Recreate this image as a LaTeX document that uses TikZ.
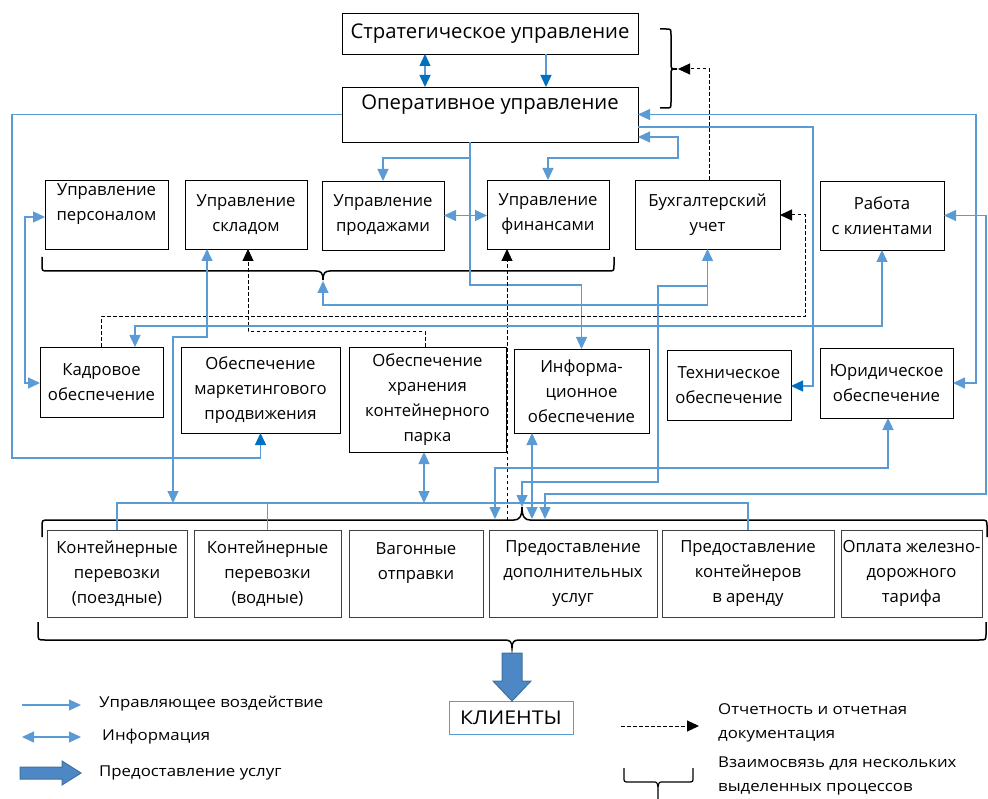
\documentclass[tikz,border=0pt]{standalone}
\usepackage{fontspec}
\setmainfont{Open Sans}
\newfontfamily\legf[FakeStretch=1.12]{Open Sans}
\usetikzlibrary{arrows.meta,calc}
\definecolor{lb}{HTML}{5B9BD5}
\definecolor{db}{HTML}{0070C0}
\definecolor{af}{HTML}{4E87C6}
\definecolor{ad}{HTML}{41719C}
\tikzset{
  box/.style={draw=black, line width=0.9pt, inner sep=0pt, outer sep=0pt, align=center, font=\fontsize{16.7}{25}\selectfont},
  topbox/.style={box, font=\fontsize{20.3}{25}\selectfont},
  svc/.style={box, draw=black!75},
  bl/.style={draw=lb, line width=1.3pt},
  lto/.style={-{Triangle[length=12pt,width=11pt]}},
  lboth/.style={{Triangle[length=12pt,width=11pt]}-{Triangle[length=12pt,width=11pt]}},
  dto/.style={-{Triangle[length=12pt,width=11pt,color=db,fill=db]}},
  dboth/.style={{Triangle[length=12pt,width=11pt,color=db,fill=db]}-{Triangle[length=12pt,width=11pt,color=db,fill=db]}},
  dsh/.style={draw=black, line width=1pt, dash pattern=on 3.5pt off 2.5pt, -{Triangle[length=12pt,width=11pt]}},
  brc/.style={draw=black, line width=1.5pt},
  legtext/.style={anchor=west, inner sep=0pt, align=left, font=\legf\fontsize{15}{24}\selectfont},
}
\begin{document}
\begin{tikzpicture}[x=1pt,y=-1pt]
\useasboundingbox (0,0) rectangle (988,799);

% top
\node[topbox,minimum width=296pt,minimum height=41pt] (strat) at (490,33.5) {Стратегическое управление};
\node[topbox,minimum width=296pt,minimum height=55pt] (oper) at (490,114.5) {Оперативное управление\\\mbox{}};

% row 1
\node[box,minimum width=123pt,minimum height=69pt] (upers) at (106.5,214.5) {Управление\\персоналом\\\mbox{}};
\node[box,minimum width=122pt,minimum height=69pt] (usklad) at (246,214.5) {Управление\\складом};
\node[box,minimum width=122pt,minimum height=69pt] (uprod) at (383,215.5) {Управление\\продажами};
\node[box,minimum width=122pt,minimum height=69pt] (ufin) at (548,214.5) {Управление\\финансами};
\node[box,minimum width=145pt,minimum height=69pt] (buh) at (707.5,214.5) {Бухгалтерский\\учет};
\node[box,minimum width=124pt,minimum height=69pt] (rabota) at (882,215.5) {Работа\\с клиентами};

% row 2
\node[box,minimum width=123pt,minimum height=70pt] (kadr) at (101.5,382) {Кадровое\\обеспечение};
\node[box,minimum width=159pt,minimum height=86pt] (market) at (260.5,390) {Обеспечение\\маркетингового\\продвижения};
\node[box,minimum width=157pt,minimum height=105pt] (hran) at (427.5,399.5) {Обеспечение\\хранения\\контейнерного\\парка};
\node[box,minimum width=135pt,minimum height=84pt] (inform) at (581.5,391) {Информа-\\ционное\\обеспечение};
\node[box,minimum width=124pt,minimum height=70pt] (tehn) at (729,385) {Техническое\\обеспечение};
\node[box,minimum width=133pt,minimum height=70pt] (jur) at (886.5,383) {Юридическое\\обеспечение};

% row 3
\node[svc,minimum width=140pt,minimum height=87pt] (kp) at (117,573.5) {Контейнерные\\перевозки\\(поездные)};
\node[svc,minimum width=147pt,minimum height=87pt] (kv) at (267.5,573.5) {Контейнерные\\перевозки\\(водные)};
\node[svc,minimum width=134pt,minimum height=87pt] (vag) at (416,573.5) {Вагонные\\отправки\\\mbox{}};
\node[svc,minimum width=168pt,minimum height=87pt] (dop) at (573,573.5) {Предоставление\\дополнительных\\услуг};
\node[svc,minimum width=172pt,minimum height=87pt] (arenda) at (748,573.5) {Предоставление\\контейнеров\\в аренду};
\node[svc,minimum width=141pt,minimum height=87pt] (tarif) at (911.5,573.5) {Оплата железно-\\дорожного\\тарифа};

% clients
\node[draw=lb, line width=0.9pt, inner sep=0pt, minimum width=124pt, minimum height=33pt, font=\legf\fontsize{19}{24}\selectfont] (clients) at (511,718) {КЛИЕНТЫ};

% braces
\draw[brc] (660,29) -- (666,29) .. controls (671,29) .. (671,35) -- (671,63) .. controls (671,69) .. (677,69)
  .. controls (671,69) .. (671,75) -- (671,102) .. controls (671,108) .. (666,108) -- (660,108);
\coordinate (b0tip) at (678,69);
\draw[brc] (42,257) -- (42,265) .. controls (42,271) .. (48,271) -- (316,271) .. controls (321,271) and (323,273) .. (323,280)
  .. controls (323,273) and (325,271) .. (330,271) -- (608,271) .. controls (614,271) .. (614,265) -- (614,257);
\coordinate (b1tip) at (323,281);
\draw[brc] (42,537) -- (42,527) .. controls (42,520) .. (49,520) -- (514,520) .. controls (519,520) and (522,517) .. (522,507)
  .. controls (522,517) and (525,520) .. (530,520) -- (980,520) .. controls (987,520) .. (987,527) -- (987,537);
\coordinate (b3tip) at (522,507);
\draw[brc] (38,622) -- (38,633) .. controls (38,640) .. (45,640) -- (505,640) .. controls (510,640) and (512,642) .. (512,648)
  .. controls (512,642) and (514,640) .. (519,640) -- (979,640) .. controls (986,640) .. (986,633) -- (986,622);

% connectors
\draw[bl,dboth] (425,0 |- strat.south) -- (425,0 |- oper.north);
\draw[bl,dto] (546,0 |- strat.south) -- (546,0 |- oper.north);
\draw[dsh] (709,0 |- buh.north) -- (709,69) -- (b0tip);
\draw[bl,dto] (oper.west) -- (12,114.5) -- (12,458) -- (market.south |- 0,458) -- (market.south);
\draw[bl,lto] (470,0 |- oper.south) -- (470,285) -- (inform.north |- 0,285) -- (inform.north);
\draw[bl,lto] (470,158) -- (uprod.north |- 0,158) -- (uprod.north);
\draw[bl,lboth] (ufin.north) -- (ufin.north |- 0,158) -- (678,158) -- (678,137) -- (oper.east |- 0,137);
\draw[bl,lboth] (oper.east) -- (976,114.5) -- (976,0 |- jur.east) -- (jur.east);
\draw[bl,lboth] (rabota.east) -- (986,0 |- rabota.east) -- (986,494) -- (545,494) -- (545,519);
\draw[bl,dto] (oper.east |- 0,127) -- (813,127) -- (813,386) -- (tehn.east |- 0,386);
\draw[bl,lboth] (uprod.east) -- (uprod.east -| ufin.west);
\draw[bl,lboth] (b1tip) -- (323,305) -- (buh.south |- 0,305) -- (buh.south);
\draw[dsh] (101,0 |- kadr.north) -- (101,317) -- (805,317) -- (805,215) -- (buh.east |- 0,215);
\draw[dsh] (425,0 |- hran.north) -- (425,332) -- (248,332) -- (248,0 |- usklad.south);
\draw[dsh] (507,520) -- (507,0 |- ufin.south);
\draw[bl,lboth] (135,0 |- kadr.north) -- (135,326) -- (rabota.south |- 0,326) -- (rabota.south);
\draw[bl,lboth] (207,0 |- usklad.south) -- (207,337) -- (173,337) -- (173,503);
\draw[bl] (kp.north) -- (kp.north |- 0,503) -- (arenda.north |- 0,503) -- (arenda.north);
\draw[bl] (kv.north) -- (kv.north |- 0,503);
\draw[bl,lboth] (424,0 |- hran.south) -- (424,503);
\draw[bl,lboth] (532,0 |- inform.south) -- (532,519);
\draw[bl,lboth] (888,0 |- jur.south) -- (888,468) -- (495,468) -- (495,519);
\draw[bl,lto] (buh.south |- 0,286) -- (658,286) -- (658,482) -- (522,482) -- (b3tip);
\draw[bl,lboth] (upers.west |- 0,217) -- (25,217) -- (25,383) -- (kadr.west |- 0,383);

% big arrow to clients
\draw[fill=af, draw=ad, line width=1pt] (502,653) -- (522,653) -- (522,681) -- (531,681) -- (512,0 |- clients.north) -- (493,681) -- (502,681) -- cycle;

% legend
\coordinate (l1a) at (22,705); \coordinate (l1b) at (81,705);
\draw[bl,lto] (l1a) -- (l1b);
\node[legtext] (t1) at (99,704) {Управляющее воздействие};
\coordinate (l2a) at (22,737); \coordinate (l2b) at (81,737);
\draw[bl,lboth] (l2a) -- (l2b);
\node[legtext] (t2) at (102,737) {Информация};
\draw[fill=af, draw=ad, line width=1pt] (20,767) -- (62,767) -- (62,761) -- (81,773) -- (62,785) -- (62,779) -- (20,779) -- cycle;
\node[legtext] (t3) at (99,773) {Предоставление услуг};
\coordinate (l4a) at (621,726); \coordinate (l4b) at (699,726);
\draw[dsh] (l4a) -- (l4b);
\node[legtext] (t4) at (718,723) {Отчетность и отчетная\\документация};
\draw[line width=1.2pt] (624,768) -- (624,777) .. controls (624,782) .. (629,782) -- (653,782) .. controls (657,782) .. (658,787) -- (658,799);
\draw[line width=1.2pt] (658,787) .. controls (659,782) .. (663,782) -- (688,782) .. controls (693,782) .. (693,777) -- (693,768);
\node[legtext] (t5) at (718,776) {Взаимосвязь для нескольких\\выделенных процессов};
\end{tikzpicture}
\end{document}
